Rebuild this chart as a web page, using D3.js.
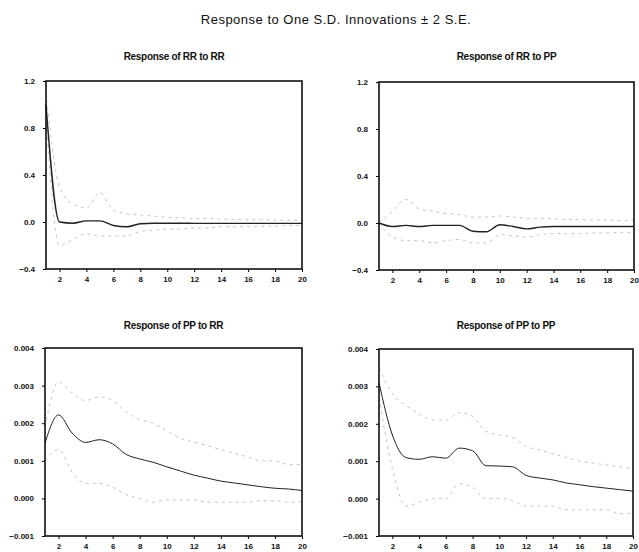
<!DOCTYPE html>
<html>
<head>
<meta charset="utf-8">
<script src="https://cdn.jsdelivr.net/npm/d3@7"></script>
<style>
  body { margin: 0; background: #fff; }
  svg { font-family: "Liberation Sans", Arial, sans-serif; }
  .tick text { font-size: 8px; font-weight: bold; fill: #111; }
</style>
</head>
<body>
<div id="viz"></div>
<script>
// periods 1..20
var periods = d3.range(1, 21);

var xTicks = [2, 4, 6, 8, 10, 12, 14, 16, 18, 20];
var yTicksTop = [1.2, 0.8, 0.4, 0.0, -0.4];
var yTicksBottom = [0.004, 0.003, 0.002, 0.001, 0.000, -0.001];

// Response of RR to RR
var rrRR = [1.0, 0.0, -0.01, 0.01, 0.01, -0.03, -0.04, -0.015, -0.01, -0.01, -0.01, -0.012, -0.012, -0.012, -0.012, -0.012, -0.012, -0.012, -0.012, -0.012];
var rrRRUp = [1.1, 0.3, 0.15, 0.12, 0.25, 0.1, 0.07, 0.06, 0.05, 0.04, 0.035, 0.03, 0.03, 0.025, 0.02, 0.02, 0.02, 0.015, 0.015, 0.01];
var rrRRLo = [0.9, -0.2, -0.15, -0.1, -0.12, -0.12, -0.12, -0.08, -0.07, -0.06, -0.06, -0.05, -0.05, -0.04, -0.04, -0.04, -0.035, -0.035, -0.03, -0.03];

// Response of RR to PP
var rrPP = [0.0, -0.03, -0.02, -0.03, -0.02, -0.02, -0.02, -0.07, -0.075, -0.015, -0.03, -0.05, -0.035, -0.03, -0.03, -0.03, -0.03, -0.03, -0.03, -0.03];
var rrPPUp = [0.0, 0.1, 0.2, 0.12, 0.1, 0.08, 0.07, 0.05, 0.05, 0.06, 0.05, 0.04, 0.04, 0.035, 0.03, 0.03, 0.025, 0.025, 0.02, 0.02];
var rrPPLo = [0.0, -0.12, -0.15, -0.15, -0.17, -0.15, -0.14, -0.17, -0.17, -0.1, -0.11, -0.12, -0.1, -0.09, -0.09, -0.09, -0.085, -0.085, -0.08, -0.08];

// Response of PP to RR
var ppRR = [0.00147, 0.00222, 0.00174, 0.00149, 0.00156, 0.00145, 0.00117, 0.00105, 0.00096, 0.00084, 0.00073, 0.00062, 0.00054, 0.00046, 0.00041, 0.00036, 0.00031, 0.00027, 0.00025, 0.00021];
var ppRRUp = [0.0019, 0.0031, 0.0028, 0.0026, 0.0027, 0.0026, 0.0023, 0.0021, 0.0020, 0.0018, 0.0016, 0.0015, 0.0014, 0.0013, 0.0012, 0.0011, 0.0010, 0.0010, 0.0009, 0.0009];
var ppRRLo = [0.0010, 0.0013, 0.0007, 0.0004, 0.0004, 0.0003, 0.0001, 0.0000, -0.0001, -0.00004, -0.00004, -0.00004, -0.0001, -0.0001, -0.0001, -0.0001, -0.00006, -0.00006, -0.0001, -0.0001];

// Response of PP to PP
var ppPP = [0.0031, 0.0017, 0.0011, 0.00105, 0.00112, 0.00108, 0.00135, 0.00128, 0.00088, 0.00087, 0.00085, 0.00062, 0.00055, 0.0005, 0.00042, 0.00037, 0.00032, 0.00028, 0.00024, 0.0002];
var ppPPUp = [0.0035, 0.0028, 0.0025, 0.00227, 0.0021, 0.0021, 0.0023, 0.0022, 0.0018, 0.0017, 0.00163, 0.0014, 0.0013, 0.0012, 0.0011, 0.001, 0.00095, 0.0009, 0.00085, 0.0008];
var ppPPLo = [0.0027, 0.0008, -0.0002, -0.0001, 0.0, 0.0, 0.0004, 0.0003, 0.0, 0.0, -0.00005, -0.0002, -0.0002, -0.0002, -0.0003, -0.0003, -0.0003, -0.0003, -0.0004, -0.0004];

var W = 639, H = 552;

var svg = d3.select("#viz").append("svg")
  .attr("width", W)
  .attr("height", H);

svg.append("text")
  .attr("x", 336).attr("y", 24)
  .attr("text-anchor", "middle")
  .attr("font-size", "13px")
  .attr("letter-spacing", "0.5px")
  .attr("fill", "#111")
  .text("Response to One S.D. Innovations \u00b1 2 S.E.");

var panels = [
  { title: "Response of RR to RR", resp: rrRR, up: rrRRUp, lo: rrRRLo, ticks: yTicksTop, fmt: ".1f",
    x0: 46, x1: 302, y0: 81, y1: 269, ty: 60, sw: 1.4 },
  { title: "Response of RR to PP", resp: rrPP, up: rrPPUp, lo: rrPPLo, ticks: yTicksTop, fmt: ".1f",
    x0: 379, x1: 634, y0: 82, y1: 270, ty: 60, sw: 1.4 },
  { title: "Response of PP to RR", resp: ppRR, up: ppRRUp, lo: ppRRLo, ticks: yTicksBottom, fmt: ".3f",
    x0: 45, x1: 302, y0: 348, y1: 536, ty: 329, sw: 1 },
  { title: "Response of PP to PP", resp: ppPP, up: ppPPUp, lo: ppPPLo, ticks: yTicksBottom, fmt: ".3f",
    x0: 379, x1: 633, y0: 349, y1: 536, ty: 329, sw: 1 }
];

panels.forEach(function (p) {
  var x = d3.scaleLinear().domain([1, 20]).range([p.x0, p.x1]);
  var y = d3.scaleLinear().domain([d3.min(p.ticks), d3.max(p.ticks)]).range([p.y1, p.y0]);

  var g = svg.append("g");

  g.append("text")
    .attr("x", (p.x0 + p.x1) / 2).attr("y", p.ty)
    .attr("text-anchor", "middle")
    .attr("font-size", "10px")
    .attr("font-weight", "bold")
    .attr("letter-spacing", "-0.3px")
    .attr("fill", "#111")
    .text(p.title);

  var line = d3.line()
    .x(function (d, i) { return x(periods[i]); })
    .y(function (d) { return y(d); })
    .curve(d3.curveMonotoneX);

  // +/- 2 SE bands
  [p.up, p.lo].forEach(function (band) {
    g.append("path")
      .datum(band)
      .attr("d", line)
      .attr("fill", "none")
      .attr("stroke", "#b5b5b5")
      .attr("stroke-width", 0.8)
      .attr("stroke-dasharray", "3,4");
  });

  g.append("path")
    .datum(p.resp)
    .attr("d", line)
    .attr("fill", "none")
    .attr("stroke", "#222")
    .attr("stroke-width", p.sw);

  // axes
  g.append("g")
    .attr("transform", "translate(0," + p.y1 + ")")
    .call(d3.axisBottom(x).tickValues(xTicks).tickSize(3).tickPadding(4).tickFormat(d3.format("d")))
    .call(function (a) { a.select(".domain").remove(); });

  g.append("g")
    .attr("transform", "translate(" + p.x0 + ",0)")
    .call(d3.axisLeft(y).tickValues(p.ticks).tickSize(3).tickPadding(8).tickFormat(d3.format(p.fmt)))
    .call(function (a) { a.select(".domain").remove(); });

  // frame
  g.append("rect")
    .attr("x", p.x0).attr("y", p.y0)
    .attr("width", p.x1 - p.x0).attr("height", p.y1 - p.y0)
    .attr("fill", "none")
    .attr("stroke", "#111")
    .attr("stroke-width", 1.6);
});
</script>
</body>
</html>
